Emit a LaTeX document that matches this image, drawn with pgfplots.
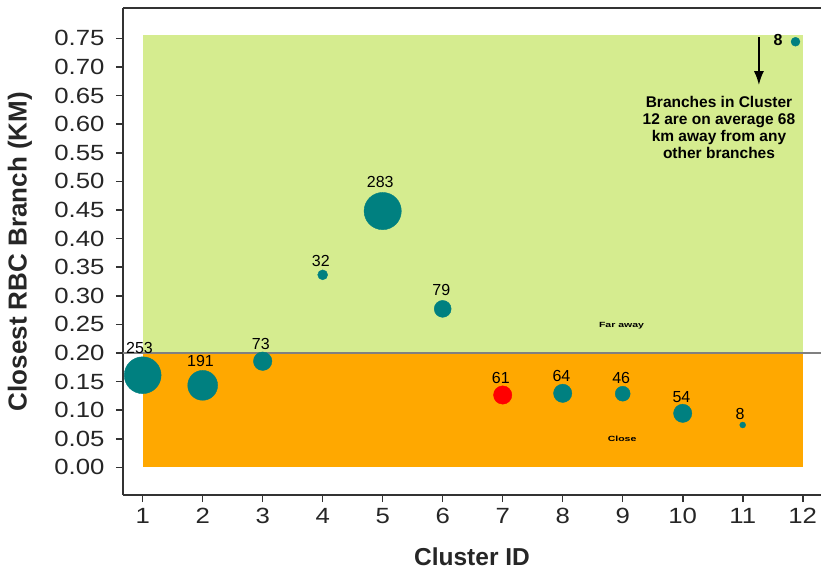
\documentclass[border=0pt]{standalone}
\usepackage{fontspec}
\setmainfont{Liberation Sans}
\newfontfamily\tickfont[FakeStretch=1.17]{Liberation Sans}
\usepackage{pgfplots}
\pgfplotsset{compat=1.18}
\usepackage{pgfplotstable}
\usetikzlibrary{arrows.meta}
\definecolor{greenc}{HTML}{D5EC8F}
\definecolor{orangec}{HTML}{FFA800}
\definecolor{tealc}{HTML}{008080}
\definecolor{redc}{HTML}{FF0000}
\definecolor{grayl}{HTML}{808080}
\pgfplotstableread{
x y r
1 0.161 18.5
2 0.1433 15
3 0.1855 9.3
4 0.3365 5
5 0.448 18.7
6 0.277 8.5
8 0.1294 9.2
9 0.1287 7.5
10 0.0944 9.2
11 0.074 3
11.88 0.744 4.5
}\bubbles
\pgfplotstableread{
x y r
7 0.1264 9.2
}\redbubble
\pgfplotstableread{
x y label
0.947 0.2086 253
1.963 0.186 191
2.97 0.2164 73
3.97 0.3615 32
4.96 0.4993 283
5.977 0.3094 79
6.97 0.1556 61
7.98 0.159 64
8.975 0.1556 46
9.98 0.1234 54
10.955 0.0937 8
}\labels
\pgfplotstableread{
x y label
11.59 0.747 8
}\boldlabel
\begin{document}
\begin{tikzpicture}
\begin{axis}[
  at={(0,0)}, anchor=south west,
  scale only axis,
  width=698bp, height=487bp,
  xmin=0.672, xmax=12.305,
  ymin=-0.0484, ymax=0.803,
  axis x line*=box, axis y line*=left,
  xtick pos=left, ytick pos=left,
  tick align=outside,
  major tick length=7bp,
  axis line style={line width=1.6bp, black!80},
  tick style={line width=1.6bp, black!80},
  xtick={1,2,...,12},
  ytick={0,0.05,...,0.76},
  /pgf/number format/assume math mode=true,
  yticklabel={\pgfmathprintnumber[fixed,fixed zerofill,precision=2]{\tick}},
  ticklabel style={font=\tickfont\fontsize{22bp}{24bp}\selectfont, text=black!85},
  xticklabel style={yshift=-3bp},
  yticklabel style={xshift=-8bp},
  xlabel={Cluster ID},
  ylabel={Closest RBC Branch (KM)},
  every axis x label/.style={at={(axis description cs:0.5,0)}, yshift=-62bp, anchor=center, font=\fontsize{24.5bp}{26bp}\selectfont\bfseries, text=black!85},
  every axis y label/.style={at={(axis description cs:0,0.5)}, xshift=-103bp, anchor=center, rotate=90, font=\fontsize{26bp}{28bp}\selectfont\bfseries, text=black!85},
  clip=false,
]
\addplot[draw=none, fill=greenc, forget plot] coordinates {(1,0.2) (12,0.2) (12,0.755) (1,0.755)} -- cycle;
\addplot[draw=none, fill=orangec, forget plot] coordinates {(1,0) (12,0) (12,0.2) (1,0.2)} -- cycle;
\addplot[grayl, line width=1.5bp, forget plot] coordinates {(0.672,0.2) (12.305,0.2)};
\addplot[scatter, only marks, mark=*,
  scatter/use mapped color={draw=tealc, fill=tealc},
  visualization depends on={\thisrow{r}\as\rad},
  scatter/@pre marker code/.append style={/tikz/mark size=\rad}]
  table[x=x,y=y] {\bubbles};
\addplot[scatter, only marks, mark=*,
  scatter/use mapped color={draw=redc, fill=redc},
  visualization depends on={\thisrow{r}\as\rad},
  scatter/@pre marker code/.append style={/tikz/mark size=\rad}]
  table[x=x,y=y] {\redbubble};
\addplot[draw=none, mark=none, nodes near coords, point meta=explicit symbolic,
  nodes near coords align=center,
  every node near coord/.append style={font=\fontsize{16bp}{18bp}\selectfont, text=black, inner sep=0pt}]
  table[x=x,y=y,meta=label] {\labels};
\addplot[draw=none, mark=none, nodes near coords, point meta=explicit symbolic,
  nodes near coords align=center,
  every node near coord/.append style={font=\fontsize{16bp}{18bp}\selectfont\bfseries, text=black, inner sep=0pt}]
  table[x=x,y=y,meta=label] {\boldlabel};
\node[font=\fontsize{7.5bp}{8bp}\selectfont\bfseries, xscale=1.4, inner sep=0pt] at (axis cs:8.98,0.2476) {Far away};
\node[font=\fontsize{7.5bp}{8bp}\selectfont\bfseries, xscale=1.4, inner sep=0pt] at (axis cs:8.99,0.0495) {Close};
\draw[-{Latex[length=14bp,width=10bp]}, line width=2bp, black] (axis cs:11.27,0.752) -- (axis cs:11.27,0.668);
\node[align=center, font=\fontsize{15.5bp}{17bp}\selectfont\bfseries, inner sep=0pt] at (axis cs:10.605,0.595) {Branches in Cluster\\12 are on average 68\\km away from any\\other branches};
\end{axis}
\pgfresetboundingbox
\path[use as bounding box] (-123bp,-81bp) rectangle (698bp,495bp);
\end{tikzpicture}
\end{document}
